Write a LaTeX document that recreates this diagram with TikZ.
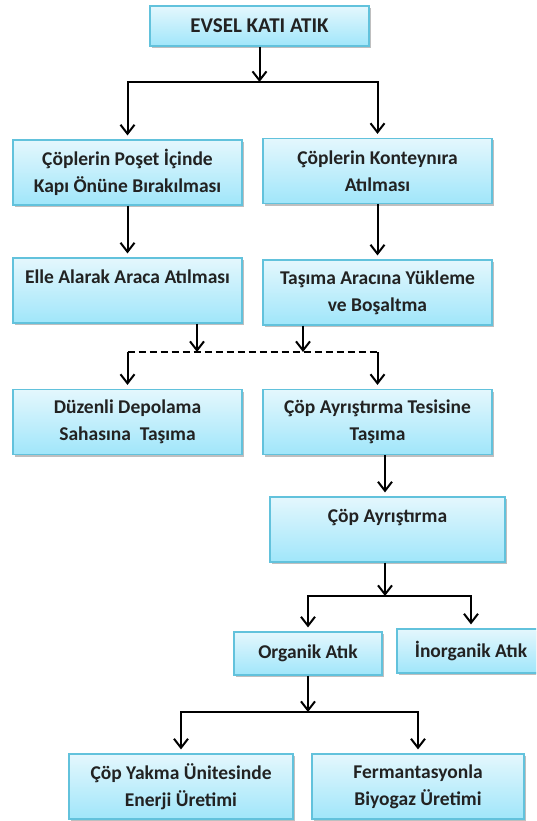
\documentclass[tikz,border=0pt]{standalone}
\usepackage{fontspec}
\setmainfont{Carlito}
\usetikzlibrary{arrows.meta}
\usetikzlibrary{calc}
\usetikzlibrary{shadows}

\definecolor{kututop}{HTML}{E4F7FD}
\definecolor{kutubottom}{HTML}{A0E6FA}
\definecolor{kutuline}{HTML}{62C2DC}
\definecolor{yazi}{HTML}{222222}

\tikzset{
  kutu/.style={draw=kutuline, line width=1.2pt, top color=kututop, bottom color=kutubottom,
    drop shadow={shadow xshift=1.5pt, shadow yshift=-2pt, fill=black, opacity=0.25},
    align=center, inner sep=0pt, text=yazi,
    font=\fontsize{19.5}{27}\selectfont\bfseries},
  hat/.style={line width=2pt},
  okhat/.style={hat, -{Straight Barb[length=9pt,width=14pt]}},
  ok/.style={okhat, shorten >=4pt},
}

\begin{document}
\begin{tikzpicture}[x=1pt,y=-1pt]
    \newcommand{\genis}{229}
    \newcommand{\yuksek}{65}
    \useasboundingbox (0,0) rectangle (536,821);
    \clip (0,0) rectangle (536,821);

    % kutular
    \node[kutu, minimum width=219, minimum height=40] (atik) at (259.5,26) {\fontsize{21}{27}\selectfont EVSEL KATI ATIK};
    \node[kutu, minimum width=\genis, minimum height=\yuksek] (poset) at (127.5,172.5) {Çöplerin Poşet İçinde\\Kapı Önüne Bırakılması};
    \node[kutu, minimum width=\genis, minimum height=\yuksek] (kont) at (377.5,171) {Çöplerin Konteynıra\\Atılması};
    \node[kutu, minimum width=\genis, minimum height=\yuksek] (elle) at (127.5,290.5) {Elle Alarak Araca Atılması\\\mbox{}};
    \node[kutu, minimum width=\genis, minimum height=\yuksek] (tasima) at (377.5,292.5) {Taşıma Aracına Yükleme\\ve Boşaltma};
    \node[kutu, minimum width=\genis, minimum height=\yuksek] (duzenli) at (127.5,422) {Düzenli Depolama\\Sahasına\ \ Taşıma};
    \node[kutu, minimum width=\genis, minimum height=\yuksek] (tesis) at (377.5,422) {Çöp Ayrıştırma Tesisine\\Taşıma};
    \node[kutu, minimum width=235, minimum height=\yuksek] (ayr) at (387.5,529.5) {Çöp Ayrıştırma\\\mbox{}};
    \node[kutu, minimum width=148, minimum height=43] (organik) at (308,653.5) {Organik Atık};
    \node[kutu, minimum width=148, minimum height=44] (inorganik) at (471,651) {İnorganik Atık};
    \node[kutu, minimum width=224, minimum height=\yuksek] (yakma) at (181,786.5) {Çöp Yakma Ünitesinde\\Enerji Üretimi};
    \node[kutu, minimum width=212, minimum height=\yuksek] (ferm) at (418,786.5) {Fermantasyonla\\Biyogaz Üretimi};

    % baglantilar
    \coordinate (c1) at (259.5,82);
    \draw[okhat] (atik.south) -- (c1);
    \draw[ok] (c1) -| (poset.north);
    \draw[ok] (c1) -| (kont.north);
    \draw[ok] (poset) -- (elle);
    \draw[ok] (kont) -- (tasima);

    \coordinate (d1) at (197,352);
    \coordinate (d2) at (303,352);
    \draw[hat, dash pattern=on 7pt off 4pt] (duzenli.north |- d1) -- (tesis.north |- d1);
    \draw[okhat] (d1 |- elle.south) -- (d1);
    \draw[okhat] (d2 |- tasima.south) -- (d2);
    \draw[ok] (duzenli.north |- d1) -- (duzenli.north);
    \draw[ok] (tesis.north |- d1) -- (tesis.north);

    \draw[ok] (385,0 |- tesis.south) -- (385,0 |- ayr.north);

    \coordinate (c2) at (385,596);
    \draw[okhat] (c2 |- ayr.south) -- (c2);
    \draw[ok] (c2) -| (organik.north);
    \draw[ok] (c2) -| (inorganik.north);

    \coordinate (c3) at (308,712);
    \draw[okhat] (organik.south) -- (c3);
    \draw[ok] (c3) -| (yakma.north);
    \draw[ok] (c3) -| (ferm.north);
\end{tikzpicture}
\end{document}
